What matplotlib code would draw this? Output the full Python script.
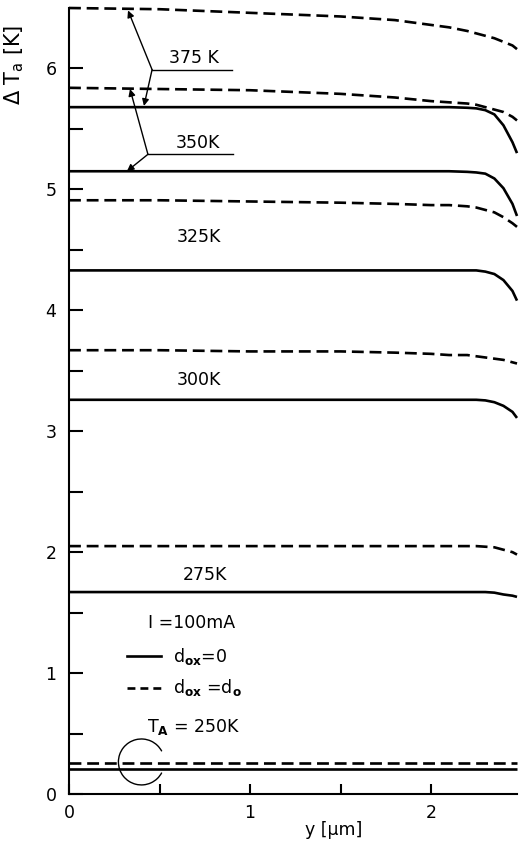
import numpy as np
import matplotlib
matplotlib.use("Agg")
import matplotlib.pyplot as plt
from matplotlib.patches import Arc

# y positions along the channel [um]
y_um = [0, 0.5, 1.0, 1.5, 1.8, 2.0, 2.1, 2.2, 2.25, 2.3, 2.35, 2.4, 2.45, 2.475]

# temperature rise dT_a [K], solid: d_ox = 0, dashed: d_ox = d_o
t375_dash = [6.50, 6.49, 6.46, 6.43, 6.40, 6.36, 6.34, 6.31, 6.29, 6.27, 6.25, 6.22, 6.19, 6.16]
t375_solid = [5.68, 5.68, 5.68, 5.68, 5.68, 5.68, 5.68, 5.675, 5.67, 5.655, 5.62, 5.53, 5.39, 5.30]
t350_dash = [5.84, 5.83, 5.82, 5.79, 5.76, 5.73, 5.72, 5.71, 5.70, 5.68, 5.66, 5.64, 5.60, 5.57]
t350_solid = [5.15, 5.15, 5.15, 5.15, 5.15, 5.15, 5.15, 5.145, 5.14, 5.13, 5.09, 5.01, 4.88, 4.78]
t325_dash = [4.91, 4.91, 4.90, 4.89, 4.88, 4.87, 4.87, 4.86, 4.85, 4.83, 4.81, 4.77, 4.72, 4.69]
t325_solid = [4.33, 4.33, 4.33, 4.33, 4.33, 4.33, 4.33, 4.33, 4.33, 4.32, 4.30, 4.25, 4.16, 4.08]
t300_dash = [3.67, 3.67, 3.66, 3.66, 3.65, 3.64, 3.63, 3.63, 3.62, 3.61, 3.60, 3.59, 3.57, 3.56]
t300_solid = [3.26, 3.26, 3.26, 3.26, 3.26, 3.26, 3.26, 3.26, 3.26, 3.255, 3.24, 3.21, 3.16, 3.11]
t275_dash = [2.05, 2.05, 2.05, 2.05, 2.05, 2.05, 2.05, 2.05, 2.05, 2.045, 2.04, 2.02, 2.00, 1.98]
t275_solid = [1.67, 1.67, 1.67, 1.67, 1.67, 1.67, 1.67, 1.67, 1.67, 1.67, 1.665, 1.65, 1.64, 1.63]
t250_dash = [0.26] * len(y_um)
t250_solid = [0.21] * len(y_um)

solid_curves = [t375_solid, t350_solid, t325_solid, t300_solid, t275_solid, t250_solid]
dash_curves = [t375_dash, t350_dash, t325_dash, t300_dash, t275_dash, t250_dash]

plt.rcParams['font.family'] = ['DejaVu Sans']
fig = plt.figure(figsize=(5.19, 8.44), dpi=100)
ax = fig.add_axes([69/519, 1-794/844, (517-69)/519, (794-8)/844])

for c in solid_curves:
    ax.plot(y_um, c, color='black', lw=1.9, clip_on=False, solid_capstyle='butt')
for c in dash_curves:
    ax.plot(y_um, c, color='black', lw=1.9, dashes=(4.5, 2.2), clip_on=False)

ax.set_xlim(0, 2.475)
ax.set_ylim(0, 6.5)
ax.spines['top'].set_visible(False)
ax.spines['right'].set_visible(False)
for s in ['left', 'bottom']:
    ax.spines[s].set_linewidth(1.5)

ax.set_yticks([0, 1, 2, 3, 4, 5, 6])
ax.set_yticks(np.arange(0.5, 6.5, 1.0), minor=True)
ax.set_xticks([0, 1, 2])
ax.set_xticks([0.5, 1.5], minor=True)
ax.tick_params(axis='y', which='both', direction='in', length=10, width=1.5, labelsize=12.5, pad=9)
ax.tick_params(axis='x', which='both', direction='in', length=7, width=1.5, labelsize=12.5, pad=7)

ax.text(-0.30, 6.03, r'$\Delta$ T$_\mathrm{a}$ [K]', rotation=90, fontsize=15, ha='center', va='center')
ax.text(1.46, -0.30, 'y [µm]', fontsize=12.5, ha='center', va='center', clip_on=False)

# temperature labels
ax.text(0.69, 6.09, '375 K', fontsize=12.5, ha='center', va='center')
ax.text(0.71, 5.38, '350K', fontsize=12.5, ha='center', va='center')
ax.text(0.72, 4.61, '325K', fontsize=12.5, ha='center', va='center')
ax.text(0.72, 3.42, '300K', fontsize=12.5, ha='center', va='center')
ax.text(0.75, 1.81, '275K', fontsize=12.5, ha='center', va='center')

# leader lines with arrows
arrow = dict(arrowstyle='-|>', color='black', lw=1.0, mutation_scale=10, shrinkA=0, shrinkB=0)
ax.plot([0.459, 0.90], [5.99, 5.99], color='black', lw=1.0)
ax.annotate('', xy=(0.326, 6.48), xytext=(0.459, 5.99), arrowprops=arrow)
ax.annotate('', xy=(0.414, 5.69), xytext=(0.459, 5.99), arrowprops=arrow)
ax.plot([0.436, 0.906], [5.29, 5.29], color='black', lw=1.0)
ax.annotate('', xy=(0.337, 5.83), xytext=(0.436, 5.29), arrowprops=arrow)
ax.annotate('', xy=(0.32, 5.15), xytext=(0.436, 5.29), arrowprops=arrow)

# legend block
ax.text(0.436, 1.41, 'I =100mA', fontsize=12.5, ha='left', va='center')
ax.plot([0.32, 0.51], [1.14, 1.14], color='black', lw=1.9)
ax.text(0.575, 1.14, r'd$_{\mathbf{ox}}$=0', fontsize=12.5, ha='left', va='center')
ax.plot([0.32, 0.51], [0.88, 0.88], color='black', lw=1.9, dashes=(3, 1.9))
ax.text(0.575, 0.88, r'd$_{\mathbf{ox}}$ =d$_{\mathbf{o}}$', fontsize=12.5, ha='left', va='center')
ax.text(0.43, 0.55, r'T$_{\mathbf{A}}$ = 250K', fontsize=12.5, ha='left', va='center')

# open circle marking the 250 K curves
ax.add_patch(Arc((0.40, 0.265), 0.254, 0.38, theta1=38, theta2=322, color='black', lw=1.0))

fig.savefig('out.png', dpi=100)
